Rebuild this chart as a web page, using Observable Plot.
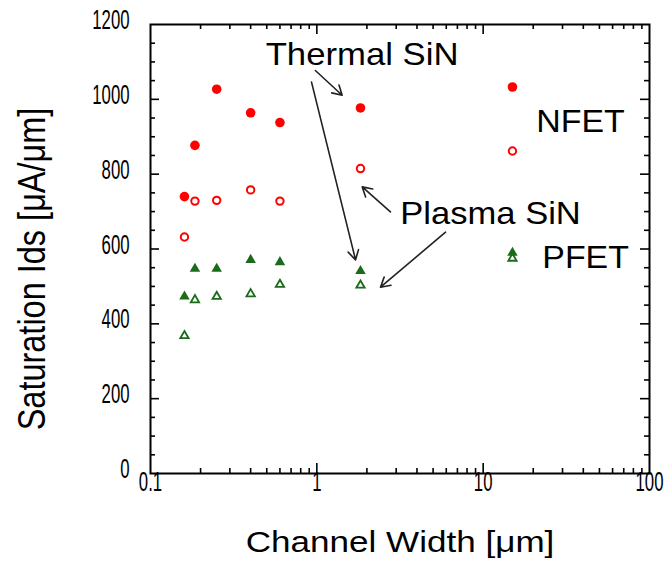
<!DOCTYPE html>
<html>
<head>
<meta charset="utf-8">
<script src="https://cdn.jsdelivr.net/npm/d3@7"></script>
<script src="https://cdn.jsdelivr.net/npm/@observablehq/plot@0.6"></script>
<style>
  html, body { margin: 0; padding: 0; background: #fff; }
  #chart svg { display: block; }
</style>
</head>
<body>
<div id="chart"></div>
<script>
// ---- data ----
const widths      = [0.16, 0.185, 0.25, 0.40, 0.60, 1.83, 15];      // Channel Width [µm]
const nfetThermal = [740, 877, 1027, 964, 938, 977, 1033];
const nfetPlasma  = [632, 728, 730, 758, 728, 815, 862];
const pfetThermal = [473, 547, 547, 571, 565, 541, 590];
const pfetPlasma  = [368, 464, 473, 480, 505, 503, 575];

// tick labels
const xTickValues = [0.1, 1, 10, 100];
const xTickLabels = ["0.1", "1", "10", "100"];
const yTickValues = [0, 200, 400, 600, 800, 1000, 1200];
const yTickLabels = ["0", "200", "400", "600", "800", "1000", "1200"];

// minor tick marks
const xMinor = [0.2,0.3,0.4,0.5,0.6,0.7,0.8,0.9, 2,3,4,5,6,7,8,9, 20,30,40,50,60,70,80,90];
const xMajorInner = [1, 10];
const yMajorInner = [200, 400, 600, 800, 1000];
const yMinor = d3.range(50, 1200, 50).filter(v => v % 200 !== 0);

// annotations
const annText = ["Thermal SiN", "NFET", "Plasma SiN", "PFET"];
const annX    = [1.87, 38.5, 11.08, 41.3];
const annY    = [1120, 941, 695, 576];

// arrows (data coordinates)
const arrowX1 = [0.98, 0.929, 2.77, 5.94];
const arrowY1 = [1077, 1046, 699, 645];
const arrowX2 = [1.42, 1.709, 1.875, 2.415];
const arrowY2 = [1011, 571, 766, 498];

// ---- tables built from arrays ----
const pts = (ys) => widths.map((w, i) => ({w, v: ys[i]}));
const ann = annText.map((t, i) => ({t, x: annX[i], y: annY[i]}));
const arrows = arrowX1.map((_, i) => ({x1: arrowX1[i], y1: arrowY1[i], x2: arrowX2[i], y2: arrowY2[i]}));
const xTicks = xTickValues.map((v, i) => ({v, t: xTickLabels[i]}));
const yTicks = yTickValues.map((v, i) => ({v, t: yTickLabels[i]}));

// ---- layout ----
const W = 668, H = 578;
const mL = 150, mR = 19, mT = 24, mB = 105;
const pw = W - mL - mR, ph = H - mT - mB;
const RED = "#ff0000", GREEN = "#1a6b1a";
const tickW = 1.6;

const chart = Plot.plot({
  width: W, height: H,
  marginLeft: mL, marginRight: mR, marginTop: mT, marginBottom: mB,
  style: {fontFamily: "'Liberation Sans', Arial, sans-serif", background: "#fff", color: "#000"},
  x: {type: "log", domain: [0.1, 100], axis: null},
  y: {domain: [0, 1200], axis: null},
  marks: [
    // inward tick marks on all four sides
    Plot.tickY(yMajorInner, {insetRight: pw - 9, stroke: "#000", strokeWidth: tickW}),
    Plot.tickY(yMinor,      {insetRight: pw - 5, stroke: "#000", strokeWidth: tickW}),
    Plot.tickY(yMajorInner, {insetLeft: pw - 9, stroke: "#000", strokeWidth: tickW}),
    Plot.tickY(yMinor,      {insetLeft: pw - 5, stroke: "#000", strokeWidth: tickW}),
    Plot.tickX(xMajorInner, {insetTop: ph - 10, stroke: "#000", strokeWidth: tickW}),
    Plot.tickX(xMinor,      {insetTop: ph - 5, stroke: "#000", strokeWidth: tickW}),
    Plot.tickX(xMajorInner, {insetBottom: ph - 10, stroke: "#000", strokeWidth: tickW}),
    Plot.tickX(xMinor,      {insetBottom: ph - 5, stroke: "#000", strokeWidth: tickW}),
    Plot.frame({stroke: "#000", strokeWidth: 2}),

    // tick labels
    Plot.text(yTicks, {y: "v", text: "t", frameAnchor: "left", textAnchor: "end", dx: -21, dy: -4,
      fontSize: 27, fontFamily: "'Liberation Sans', Arial", className: "tl", fill: "#000"}),
    Plot.text(xTicks, {x: "v", text: "t", frameAnchor: "bottom", textAnchor: "middle", dy: 17,
      fontSize: 27, fontFamily: "'Liberation Sans', Arial", className: "tl", fill: "#000"}),

    // axis titles
    Plot.text(["Channel Width [\u03bcm]"], {frameAnchor: "bottom", textAnchor: "middle", dy: 78, fontSize: 29, fill: "#000", className: "xlab"}),
    Plot.text(["Saturation Ids [\u03bcA/\u03bcm]"], {frameAnchor: "left", textAnchor: "middle", rotate: -90, dx: -118, dy: 20, fontSize: 32.5, fill: "#000", className: "ylab"}),

    // data: open (plasma) first, filled (thermal) on top
    Plot.dot(pts(nfetPlasma),  {x: "w", y: "v", symbol: "circle", r: 3.7, fill: "#fff", stroke: RED, strokeWidth: 2}),
    Plot.dot(pts(pfetPlasma),  {x: "w", y: "v", symbol: "triangle", r: 3.1, fill: "#fff", stroke: GREEN, strokeWidth: 1.8}),
    Plot.dot(pts(nfetThermal), {x: "w", y: "v", symbol: "circle", r: 4.8, fill: RED, stroke: "none"}),
    Plot.dot(pts(pfetThermal), {x: "w", y: "v", symbol: "triangle", r: 3.9, fill: GREEN, stroke: "none"}),

    // annotations
    Plot.arrow(arrows, {x1: "x1", y1: "y1", x2: "x2", y2: "y2", stroke: "#222", strokeWidth: 1.6, headLength: 10}),
    Plot.text(ann, {x: "x", y: "y", text: "t", fontSize: 32, fill: "#000", textAnchor: "middle", lineAnchor: "middle", className: "ann"})
  ]
});

// horizontal scale factors to match the reference's glyph proportions
function scaleText(el, sx) {
  const t = el.getAttribute("transform");
  if (t) {
    el.setAttribute("transform", t.includes("rotate(")
      ? t.replace("rotate(", `scale(${sx},1) rotate(`)
      : `${t} scale(${sx},1)`);
  } else {
    el.setAttribute("textLength", el.getComputedTextLength ? 0 : 0);
  }
}
const stretch = {"Thermal SiN": 1.085, "NFET": 1.06, "Plasma SiN": 1.08, "PFET": 1.06, "Channel Width [\u03bcm]": 1.21};
d3.select(chart).selectAll(".ann text, .xlab text").each(function() {
  const s = stretch[this.textContent];
  if (s) scaleText(this, s);
});
d3.select(chart).selectAll(".tl text").each(function() { scaleText(this, 0.62); });
d3.select(chart).selectAll(".ylab text").each(function() { scaleText(this, 1.2); });

document.getElementById("chart").appendChild(chart);
</script>
</body>
</html>
